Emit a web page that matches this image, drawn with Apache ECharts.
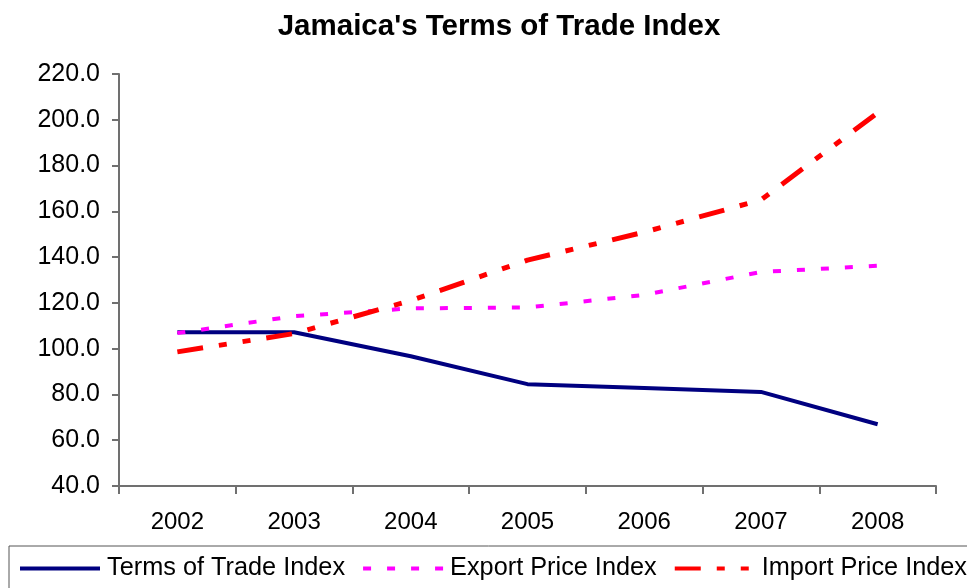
<!DOCTYPE html>
<html>
<head>
<meta charset="utf-8">
<script src="https://cdn.jsdelivr.net/npm/echarts@6/dist/echarts.min.js"></script>
<style>
  html, body { margin: 0; padding: 0; background: #fff; }
  #chart { width: 967px; height: 588px; }
</style>
</head>
<body>
<div id="chart"></div>
<script>
var years = ['2002', '2003', '2004', '2005', '2006', '2007', '2008'];
var termsOfTrade = [107.2, 107.2, 96.7, 84.5, 82.8, 81.1, 67.0];
var exportPrice = [106.8, 114.2, 117.6, 118.0, 123.5, 133.5, 136.2];
var importPrice = [98.6, 106.6, 121.0, 138.7, 150.9, 165.0, 203.0];

var font = 'Liberation Sans, Arial, sans-serif';
var chart = echarts.init(document.getElementById('chart'));

var option = {
	backgroundColor: '#fff',
	animation: false,
	title: {
		text: "Jamaica's Terms of Trade Index",
		left: 494,
		top: 7,
		textAlign: 'center',
		textStyle: {
			fontFamily: font,
			fontSize: 29.5,
			fontWeight: 'bold',
			color: '#000'
		}
	},
	grid: {
		left: 119,
		right: 31,
		top: 74,
		bottom: 102
	},
	legend: {
		left: 9,
		top: 546,
		width: 1200,
		padding: [10, 6, 12, 9],
		borderColor: '#555',
		borderWidth: 1,
		itemWidth: 80,
		itemHeight: 14,
		itemGap: 16,
		itemStyle: { opacity: 0 },
		lineStyle: { width: 4 },
		textStyle: {
			fontFamily: font,
			fontSize: 25.3,
			color: '#000',
			padding: [0, 0, 0, 2]
		},
		data: ['Terms of Trade Index', 'Export Price Index', 'Import Price Index']
	},
	xAxis: {
		type: 'category',
		data: years,
		boundaryGap: true,
		axisLine: { lineStyle: { color: '#707070', width: 2 } },
		axisTick: { show: true, length: 8, lineStyle: { color: '#707070', width: 2 } },
		axisLabel: {
			margin: 24,
			fontFamily: font,
			fontSize: 24,
			color: '#000'
		},
		splitLine: { show: false }
	},
	yAxis: {
		type: 'value',
		min: 40,
		max: 220,
		interval: 20,
		axisLine: { show: true, lineStyle: { color: '#707070', width: 2 } },
		axisTick: { show: true, length: 7, lineStyle: { color: '#707070', width: 2 } },
		axisLabel: {
			margin: 19,
			fontFamily: font,
			fontSize: 25,
			color: '#000',
			formatter: function (v) { return v.toFixed(1); }
		},
		splitLine: { show: false }
	},
	series: [
		{
			name: 'Terms of Trade Index',
			type: 'line',
			data: termsOfTrade,
			symbol: 'none',
			color: '#000080',
			lineStyle: { color: '#000080', width: 4, type: 'solid' }
		},
		{
			name: 'Export Price Index',
			type: 'line',
			data: exportPrice,
			symbol: 'none',
			color: '#ff00ff',
			lineStyle: { color: '#ff00ff', width: 4, type: [8, 16] }
		},
		{
			name: 'Import Price Index',
			type: 'line',
			data: importPrice,
			symbol: 'none',
			color: '#ff0000',
			lineStyle: { color: '#ff0000', width: 5, type: [26, 16, 8, 16, 8, 16] }
		}
	]
};

chart.setOption(option);
</script>
</body>
</html>
